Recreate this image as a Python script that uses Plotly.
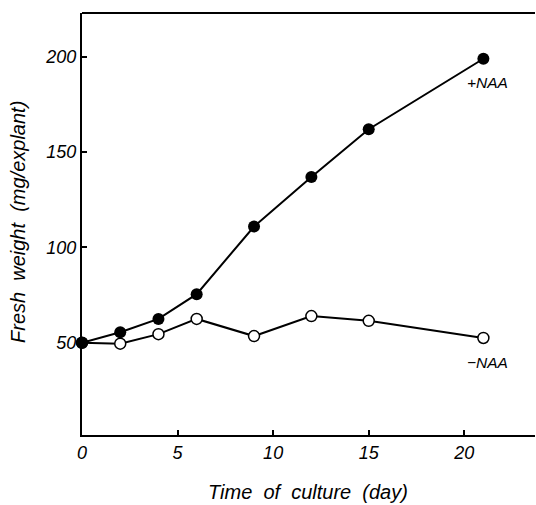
import plotly.graph_objects as go

days = [0, 2, 4, 6, 9, 12, 15, 21]
with_naa = [50, 55.5, 62.5, 75.5, 111, 137, 162, 199]
without_naa = [50, 49.5, 54.5, 62.5, 53.5, 64, 61.5, 52.5]
x_ticks = [0, 5, 10, 15, 20]
y_ticks = [50, 100, 150, 200]
label_plus = "+NAA"
label_minus = "\u2212NAA"
x_title = "Time\u00a0\u00a0of\u00a0\u00a0culture\u00a0\u00a0(day)"
y_title = "Fresh\u00a0\u00a0weight\u00a0\u00a0(mg/explant)"

font_family = "Liberation Sans, Arial, sans-serif"

fig = go.Figure()
fig.add_trace(go.Scatter(
    x=days, y=without_naa, mode="lines+markers", cliponaxis=False,
    line=dict(color="black", width=2),
    marker=dict(size=11, color="white", line=dict(color="black", width=1.5)),
    showlegend=False))
fig.add_trace(go.Scatter(
    x=days, y=with_naa, mode="lines+markers", cliponaxis=False,
    line=dict(color="black", width=2),
    marker=dict(size=12, color="black"),
    showlegend=False))

fig.add_annotation(x=days[-1], y=with_naa[-1], text=label_plus, showarrow=False,
                   xanchor="center", yanchor="middle", xshift=4, yshift=-24,
                   font=dict(family=font_family, size=15.5, color="black", style="italic"))
fig.add_annotation(x=days[-1], y=without_naa[-1], text=label_minus, showarrow=False,
                   xanchor="center", yanchor="middle", xshift=4, yshift=-25,
                   font=dict(family=font_family, size=15.5, color="black", style="italic"))

# axis titles
fig.add_annotation(xref="paper", yref="paper", x=(308 - 82) / 453, y=-(492 - 435) / 422,
                   text=x_title, showarrow=False, xanchor="center", yanchor="middle",
                   font=dict(family=font_family, size=20, color="black", style="italic"))
fig.add_annotation(xref="paper", yref="paper", x=-(82 - 18) / 453, y=(435 - 222) / 422,
                   text=y_title, showarrow=False, xanchor="center", yanchor="middle",
                   textangle=-90,
                   font=dict(family=font_family, size=20, color="black", style="italic"))

fig.add_shape(type="line", xref="paper", yref="paper", x0=0, x1=1, y0=1, y1=1,
              line=dict(color="black", width=2))

fig.update_xaxes(range=[0, 23.7], tickvals=x_ticks, ticktext=[str(v) for v in x_ticks],
                 showline=True, linecolor="black", linewidth=2, automargin=False,
                 ticks="inside", ticklen=5, tickcolor="black", tickwidth=1.5,
                 showgrid=False, zeroline=False,
                 tickfont=dict(family=font_family, size=18, color="black", style="italic"))
fig.update_yaxes(range=[1.6, 223], tickvals=y_ticks, ticktext=[str(v) for v in y_ticks],
                 showline=True, linecolor="black", linewidth=2, automargin=False,
                 ticks="inside", ticklen=5, tickcolor="black", tickwidth=1.5,
                 showgrid=False, zeroline=False,
                 tickfont=dict(family=font_family, size=18, color="black", style="italic"))

fig.update_layout(width=536, height=505, margin=dict(l=82, r=1, t=13, b=70),
                  plot_bgcolor="white", paper_bgcolor="white")

fig.write_html("out.html", config={"displayModeBar": False},
               post_script="document.body.style.margin='0';document.body.style.overflow='hidden';")
